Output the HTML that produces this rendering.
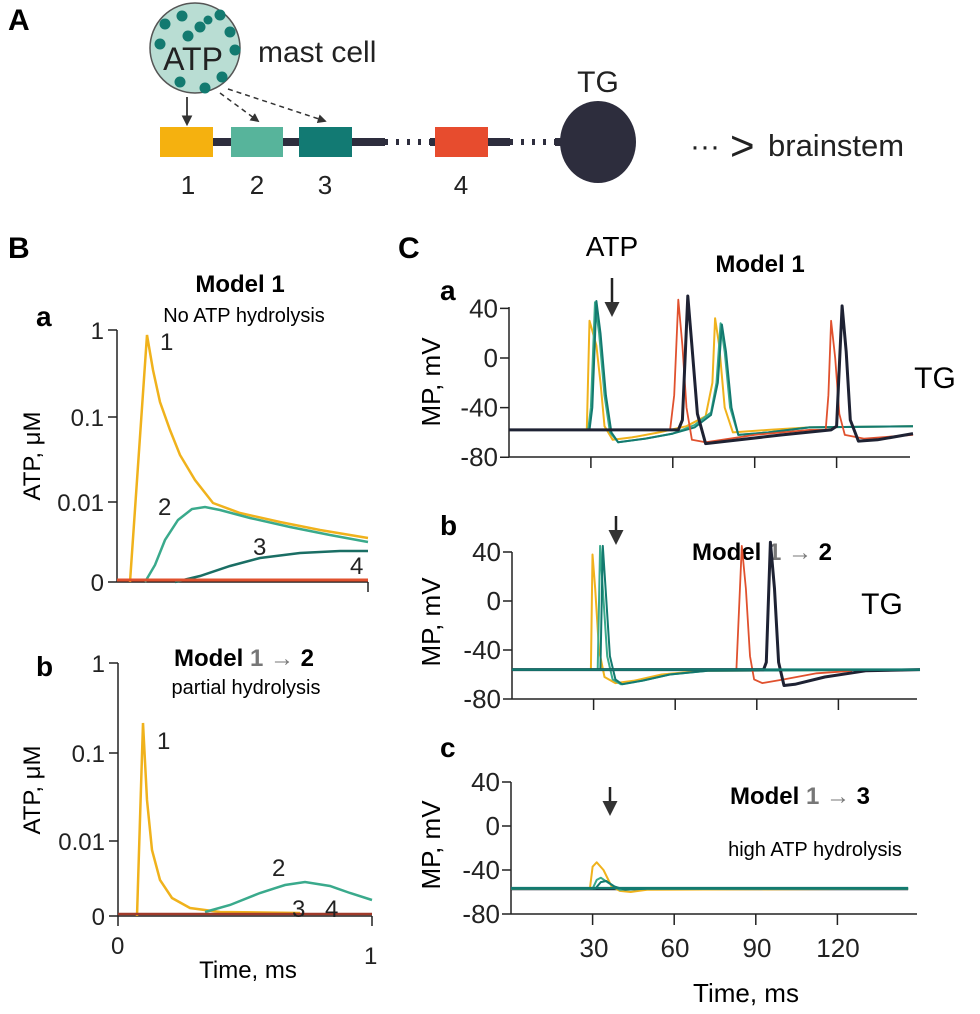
<!DOCTYPE html>
<html><head><meta charset="utf-8"><style>
body{margin:0;background:#fff}
svg{display:block;font-family:"Liberation Sans",Arial,sans-serif}
</style></head><body>
<svg id="s" width="980" height="1014" viewBox="0 0 980 1014" xmlns="http://www.w3.org/2000/svg">
<defs><marker id="ah" viewBox="0 0 10 10" refX="8" refY="5" markerWidth="6" markerHeight="6" orient="auto"><path d="M0,0L10,5L0,10z" fill="#333"/></marker></defs>
<!-- Panel A -->
<text x="8" y="30" font-size="30" font-weight="bold">A</text>
<circle cx="195" cy="48" r="45" fill="#b9ddd3" stroke="#555" stroke-width="1.5"/>
<g fill="#137a70">
<circle cx="165" cy="24" r="5.5"/><circle cx="182" cy="16" r="5.5"/><circle cx="200" cy="27" r="5.5"/><circle cx="220" cy="15" r="5.5"/><circle cx="230" cy="32" r="5.5"/><circle cx="188" cy="36" r="5.5"/><circle cx="160" cy="44" r="5.5"/><circle cx="235" cy="50" r="5.5"/><circle cx="180" cy="82" r="5.5"/><circle cx="205" cy="88" r="5.5"/><circle cx="222" cy="77" r="5.5"/><circle cx="208" cy="20" r="4.5"/></g>
<text x="193" y="70" font-size="32" text-anchor="middle" fill="#222">ATP</text>
<text x="258" y="62" font-size="30" fill="#222">mast cell</text>
<line x1="187" y1="97" x2="187" y2="124" stroke="#333" stroke-width="1.8" marker-end="url(#ah)"/>
<line x1="220" y1="93" x2="258" y2="121" stroke="#333" stroke-width="1.5" stroke-dasharray="5,4" marker-end="url(#ah)"/>
<line x1="228" y1="89" x2="325" y2="121" stroke="#333" stroke-width="1.5" stroke-dasharray="5,4" marker-end="url(#ah)"/>
<line x1="200" y1="142" x2="385" y2="142" stroke="#2d2d3d" stroke-width="8"/>
<line x1="385" y1="142" x2="430" y2="142" stroke="#2d2d3d" stroke-width="6" stroke-dasharray="3,8"/>
<line x1="430" y1="142" x2="510" y2="142" stroke="#2d2d3d" stroke-width="8"/>
<line x1="510" y1="142" x2="555" y2="142" stroke="#2d2d3d" stroke-width="6" stroke-dasharray="3,8"/>
<line x1="555" y1="142" x2="570" y2="142" stroke="#2d2d3d" stroke-width="8"/>
<rect x="160" y="127" width="53" height="30" fill="#f5b10f"/>
<rect x="231" y="127" width="52" height="30" fill="#57b49b"/>
<rect x="299" y="127" width="53" height="30" fill="#127a73"/>
<rect x="435" y="127" width="53" height="30" fill="#e74c2e"/>
<ellipse cx="598" cy="142" rx="38" ry="41" fill="#2d2d3d"/>
<text x="598" y="92" font-size="30" text-anchor="middle" fill="#222">TG</text>
<g font-size="26" text-anchor="middle" fill="#222"><text x="188" y="194">1</text><text x="257" y="194">2</text><text x="325" y="194">3</text><text x="461" y="194">4</text></g>
<text x="690" y="156" font-size="30" fill="#222">···</text>
<text x="730" y="160" font-size="42" fill="#222">&gt;</text>
<text x="768" y="156" font-size="31" fill="#222">brainstem</text>

<!-- Panel B -->
<text x="8" y="258" font-size="30" font-weight="bold">B</text>
<text x="240" y="292" font-size="24" font-weight="bold" text-anchor="middle">Model 1</text>
<text x="244" y="322" font-size="20" text-anchor="middle">No ATP hydrolysis</text>
<text x="36" y="326" font-size="28" font-weight="bold">a</text>
<g stroke="#222" stroke-width="1.5" fill="none">
<path d="M117,330V582H368M108,330H117M108,417H117M108,502H117M108,582H117M368,582V592"/>
<path d="M118,663V916H372M109,663H118M109,753H118M109,841H118M109,916H118M118,916V926M372,916V926"/>
</g>
<g font-size="24" text-anchor="end" fill="#222">
<text x="104" y="339">1</text><text x="104" y="426">0.1</text><text x="104" y="511">0.01</text><text x="104" y="591">0</text>
<text x="105" y="672">1</text><text x="105" y="762">0.1</text><text x="105" y="850">0.01</text><text x="105" y="925">0</text>
</g>
<text transform="translate(40,456) rotate(-90)" font-size="24" text-anchor="middle">ATP, μM</text>
<text transform="translate(40,790) rotate(-90)" font-size="24" text-anchor="middle">ATP, μM</text>
<g stroke-width="2.5" fill="none">
<path d="M130,582L147,335L153,370L160,402L170,430L180,455L195,480L213,503L240,513L280,522L320,530L368,538" stroke="#f0b21c"/>
<path d="M145,582L155,565L165,540L178,520L192,509L205,507L220,510L250,518L290,527L330,535L368,542" stroke="#3aaa8c"/>
<path d="M175,582L200,576L230,566L260,558L300,553L340,551L368,551" stroke="#1a6e64"/>
<path d="M117,580H368" stroke="#e0512e" stroke-width="3"/>
<path d="M137,916L143,723L147,800L152,850L160,880L172,898L190,908L220,912L300,913" stroke="#f0b21c"/>
<path d="M205,912L230,905L260,893L285,885L305,882L330,886L350,893L372,900" stroke="#3aaa8c"/>
<path d="M118,914H372" stroke="#a03a2a" stroke-width="2.5"/>
</g>
<g font-size="24" fill="#222"><text x="160" y="350">1</text><text x="158" y="515">2</text><text x="253" y="555">3</text><text x="350" y="574">4</text>
<text x="157" y="749">1</text><text x="272" y="876">2</text><text x="292" y="917">3</text><text x="325" y="917">4</text>
<text x="111" y="954">0</text><text x="364" y="964">1</text></g>
<text x="36" y="676" font-size="28" font-weight="bold">b</text>
<text x="244" y="666" font-size="24" font-weight="bold" text-anchor="middle">Model <tspan fill="#777">1 → </tspan>2</text>
<text x="246" y="694" font-size="20" text-anchor="middle">partial hydrolysis</text>
<text x="248" y="978" font-size="24" text-anchor="middle">Time, ms</text>

<!-- Panel C -->
<text x="398" y="258" font-size="30" font-weight="bold">C</text>
<text x="612" y="256" font-size="28" text-anchor="middle">ATP</text>
<text x="760" y="272" font-size="24" font-weight="bold" text-anchor="middle">Model 1</text>
<text x="440" y="300" font-size="28" font-weight="bold">a</text>
<text x="440" y="535" font-size="28" font-weight="bold">b</text>
<text x="440" y="757" font-size="28" font-weight="bold">c</text>
<g stroke="#222" stroke-width="2.5"><line x1="612" y1="278" x2="612" y2="314" marker-end="url(#ah)"/><line x1="616" y1="516" x2="616" y2="542" marker-end="url(#ah)"/><line x1="610" y1="787" x2="610" y2="813" marker-end="url(#ah)"/></g>
<text x="762" y="560" font-size="24" font-weight="bold" text-anchor="middle">Model<tspan fill="#777"> 1 → </tspan>2</text>
<text x="800" y="804" font-size="24" font-weight="bold" text-anchor="middle">Model <tspan fill="#777">1 → </tspan>3</text>
<text x="815" y="856" font-size="20" text-anchor="middle">high ATP hydrolysis</text>
<text x="935" y="388" font-size="30" text-anchor="middle">TG</text>
<text x="882" y="614" font-size="30" text-anchor="middle">TG</text>
<g id="axes" stroke="#222" stroke-width="1.5" fill="none"></g>
<g id="ticks" font-size="26" text-anchor="end" fill="#222"></g>
<g id="curves" fill="none"></g>
<g font-size="26" text-anchor="middle" fill="#222"><text x="594" y="957">30</text><text x="675" y="957">60</text><text x="757" y="957">90</text><text x="838" y="957">120</text></g>
<text x="746" y="1002" font-size="26" text-anchor="middle">Time, ms</text>
</svg>
<script>
var P=[{x0:509,xs:2.73,y0:358,ys:1.24,xe:910,yt:307,yb:457},
{x0:512,xs:2.72,y0:601,ys:1.225,xe:917,yt:552,yb:699},
{x0:511,xs:2.72,y0:826,ys:1.1,xe:917,yt:782,yb:914}];
var ax=document.getElementById('axes'),tk=document.getElementById('ticks'),cv=document.getElementById('curves');
var ns='http://www.w3.org/2000/svg';
function el(p,t,a){var e=document.createElementNS(ns,t);for(var k in a)e.setAttribute(k,a[k]);p.appendChild(e);return e;}
var ylab=[382,622,845];
P.forEach(function(p,i){
 var d='M'+p.x0+','+p.yt+'V'+p.yb+'H'+p.xe;
 [40,0,-40,-80].forEach(function(v){var y=p.y0-v*p.ys;d+='M'+(p.x0-9)+','+y+'H'+p.x0;
   var t=el(tk,'text',{x:p.x0-11,y:y+9});t.textContent=v;});
 [30,60,90,120].forEach(function(t){var x=p.x0+t*p.xs;d+='M'+x+','+p.yb+'v11';});
 el(ax,'path',{d:d});
 var tl=el(document.getElementById('s'),'text',{transform:'translate(440,'+ylab[i]+') rotate(-90)','font-size':26,'text-anchor':'middle'});tl.textContent='MP, mV';
});
function draw(pi,pts,col,w){var p=P[pi];var d='';pts.forEach(function(q,k){d+=(k?'L':'M')+(p.x0+q[0]*p.xs).toFixed(1)+','+(p.y0-q[1]*p.ys).toFixed(1);});
 el(cv,'path',{d:d,stroke:col,'stroke-width':w,'stroke-linejoin':'round'});}
var Y='#f0b21c',G='#3aaa8c',D='#137a70',R='#e0512e',K='#1e2233';
draw(0,[[0,-58],[22,-58],[28.5,-58],[29.5,30],[30.5,22],[32,10],[33.5,-20],[35,-55],[38,-66],[45,-64],[55,-60],[65,-55],[72,-47],[74.5,-20],[75.5,32],[77,10],[79,-40],[82,-60],[95,-58],[110,-56],[148,-55]],Y,2);
draw(0,[[0,-58],[29,-58],[30,-40],[31.5,45],[33,20],[35,-30],[37,-60],[40,-68],[50,-65],[60,-61],[68,-54],[74,-44],[76,-20],[77.5,28],[79,5],[81,-40],[84,-62],[95,-60],[110,-56],[148,-55]],G,2);
draw(0,[[0,-58],[29.5,-58],[30.5,-40],[32,46],[33.5,20],[35.5,-30],[37.5,-60],[40,-68],[50,-65],[60,-61],[68,-56],[74,-46],[76.5,-20],[78,27],[79.5,5],[81.5,-40],[84,-62],[95,-60],[110,-56],[148,-55]],D,2);
draw(0,[[0,-58],[59,-58],[60.5,-30],[62,47],[63.5,10],[65,-40],[67,-66],[72,-68],[90,-62],[110,-58],[116,-58],[117,-30],[118,30],[119.5,0],[121,-45],[123,-62],[130,-65],[148,-62]],R,1.8);
draw(0,[[0,-58],[62,-58],[63.5,-50],[65.5,50],[67,10],[69,-45],[72,-69],[80,-67],[100,-62],[118,-58],[120,-55],[122,42],[123.5,5],[125,-50],[128,-67],[135,-66],[148,-61]],K,3);
draw(1,[[0,-56],[29,-56],[29.6,38],[30.6,10],[32,-40],[34,-62],[38,-67],[45,-65],[55,-60],[70,-57],[150,-56]],Y,2);
draw(1,[[0,-56],[31.5,-56],[32.4,45],[33.4,10],[35,-45],[37,-64],[40,-68],[48,-65],[58,-60],[72,-57],[150,-56]],G,2);
draw(1,[[0,-56],[32.5,-56],[33.4,45],[34.4,10],[36,-45],[38,-64],[40.5,-68],[48,-65],[58,-60],[72,-57],[150,-56]],D,2);
draw(1,[[0,-56],[82.5,-56],[84.5,45],[86,10],[87.5,-45],[89,-64],[92,-67],[100,-64],[112,-59],[125,-57]],R,1.8);
draw(1,[[0,-56],[92.5,-56],[93.5,-50],[95,48],[96.5,10],[98,-50],[100,-69],[104,-68],[115,-62],[130,-57],[150,-56]],K,3);
draw(1,[[0,-56],[150,-56]],D,2.5);
draw(2,[[0,-57],[146,-57]],K,3);
draw(2,[[0,-57],[29,-57],[30,-37],[31.5,-33],[34,-40],[37,-55],[40,-59],[44,-60],[50,-58],[146,-57]],Y,2);
draw(2,[[0,-57],[30,-57],[31.5,-49],[33,-47],[36,-52],[40,-58],[50,-57],[146,-57]],G,2);
draw(2,[[0,-57],[31,-57],[33,-51],[35,-50],[38,-55],[42,-58],[50,-57],[146,-57]],D,2);
draw(2,[[0,-56.5],[146,-56.5]],D,2.5);
</script>
</body></html>
